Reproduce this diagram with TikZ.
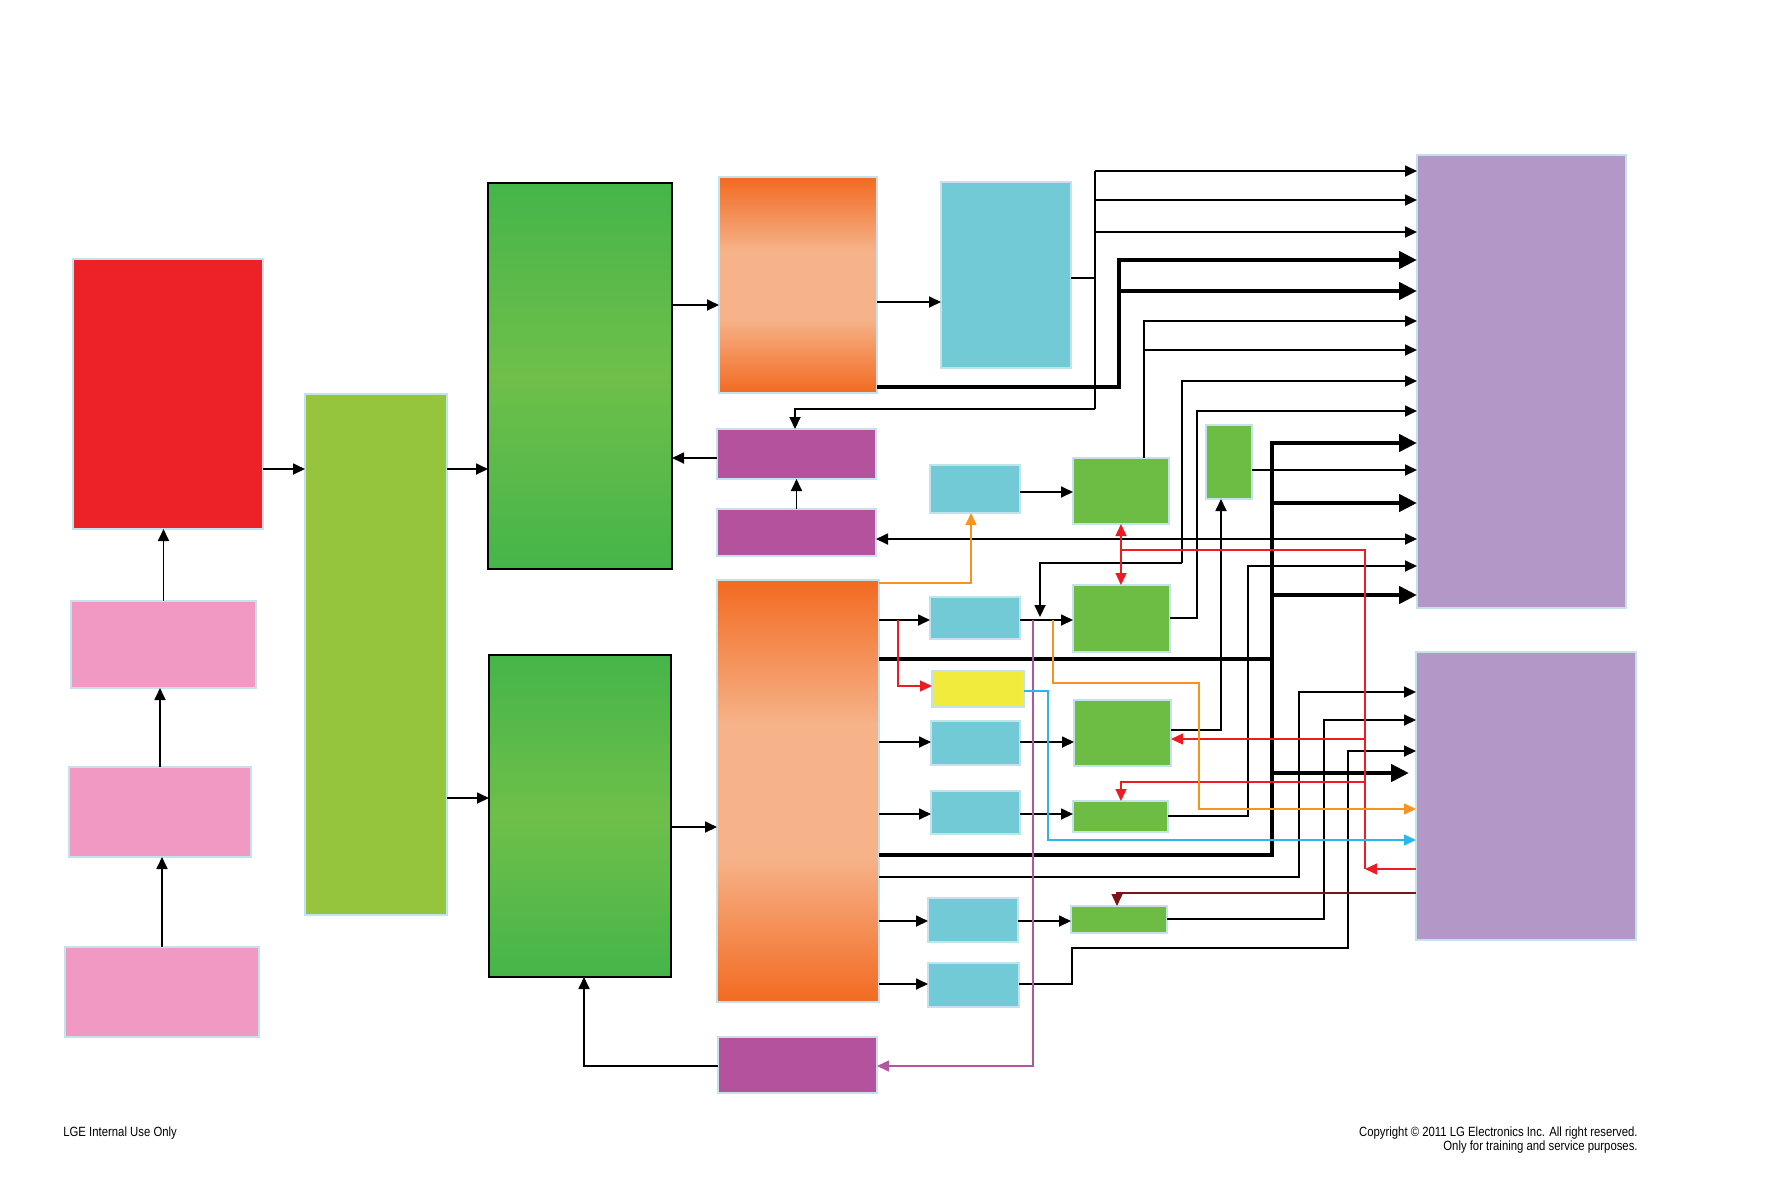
\documentclass[tikz,border=0pt]{standalone}
\usepackage{fontspec}
\usepackage{xcolor}
\usetikzlibrary{arrows.meta}
\newfontfamily\lgfont[FakeStretch=0.85]{Liberation Sans}

\definecolor{boxedge}{HTML}{C4E2EC}
\definecolor{boxred}{HTML}{ED2227}
\definecolor{boxpink}{HTML}{F09AC3}
\definecolor{boxlime}{HTML}{95C43D}
\definecolor{greendk}{HTML}{45B549}
\definecolor{greenlt}{HTML}{6FBF4A}
\definecolor{boxorange}{HTML}{F26A21}
\definecolor{boxpeach}{HTML}{F6B288}
\definecolor{boxmag}{HTML}{B4529E}
\definecolor{boxcyan}{HTML}{72CAD7}
\definecolor{boxgreen}{HTML}{6DBD45}
\definecolor{boxyellow}{HTML}{F0EB3D}
\definecolor{boxlav}{HTML}{B397C6}
\definecolor{sorange}{HTML}{F7941D}
\definecolor{sred}{HTML}{ED1C24}
\definecolor{sblue}{HTML}{2BB7E8}
\definecolor{smag}{HTML}{B455A2}
\definecolor{sdkred}{HTML}{7B1416}

\pgfdeclareverticalshading{orshade}{100bp}{color(0bp)=(boxorange); color(25bp)=(boxorange); color(42bp)=(boxpeach); color(58bp)=(boxpeach); color(75bp)=(boxorange); color(100bp)=(boxorange)}

% block from corner (x1,y1) to corner (x2,y2)
\newcommand{\blk}[6]{\node[#2, minimum width={(#5-#3)*0.02cm}, minimum height={(#6-#4)*0.02cm}] (#1) at ({(#3+#5)/2},{(#4+#6)/2}) {};}

\begin{document}
\begin{tikzpicture}[x=0.02cm, y=-0.02cm,
	box/.style={inner sep=0pt, outer sep=0pt, draw=boxedge, line width=0.6pt},
	redbox/.style={box, fill=boxred},
	pinkbox/.style={box, fill=boxpink},
	limebox/.style={box, fill=boxlime},
	bigbox/.style={inner sep=0pt, outer sep=0pt, draw=black, line width=1pt, top color=greendk, bottom color=greendk, middle color=greenlt},
	orbox/.style={box, shading=orshade},
	magbox/.style={box, fill=boxmag},
	cybox/.style={box, fill=boxcyan},
	grbox/.style={box, fill=boxgreen},
	yebox/.style={box, fill=boxyellow},
	lavbox/.style={box, fill=boxlav},
	ln/.style={line width=1pt, >={Triangle[length=0.24cm,width=0.22cm]}},
	cl/.style={line width=0.8pt, >={Triangle[length=0.24cm,width=0.22cm]}},
	bus/.style={line width=2.8pt, >={Triangle[length=0.36cm,width=0.34cm]}},
	foot/.style={font=\lgfont\fontsize{7.6}{8.3}\selectfont, inner sep=0pt}]
	\useasboundingbox (0,0) rectangle (1765,1191);

	% blocks
	\blk{rd}{redbox}{73}{259}{263}{529}
	\blk{pk1}{pinkbox}{71}{601}{256}{688}
	\blk{pk2}{pinkbox}{69}{767}{251}{857}
	\blk{pk3}{pinkbox}{65}{947}{259}{1037}
	\blk{yg}{limebox}{305}{394}{447}{915}
	\blk{gnT}{bigbox}{488}{183}{672}{569}
	\blk{gnB}{bigbox}{489}{655}{671}{977}
	\blk{orT}{orbox}{719}{177}{877}{393}
	\blk{orB}{orbox}{717}{580}{879}{1002}
	\blk{mgA}{magbox}{717}{429}{876}{479}
	\blk{mgB}{magbox}{717}{509}{876}{556}
	\blk{mgC}{magbox}{718}{1037}{877}{1093}
	\blk{cyT}{cybox}{941}{182}{1071}{368}
	\blk{cy1}{cybox}{930}{465}{1020}{513}
	\blk{cy2}{cybox}{930}{597}{1020}{639}
	\blk{cy3}{cybox}{931}{721}{1020}{765}
	\blk{cy4}{cybox}{931}{791}{1020}{834}
	\blk{cy5}{cybox}{928}{898}{1018}{942}
	\blk{cy6}{cybox}{928}{963}{1019}{1007}
	\blk{yl}{yebox}{932}{671}{1024}{707}
	\blk{gA}{grbox}{1073}{458}{1169}{524}
	\blk{gC}{grbox}{1073}{585}{1170}{652}
	\blk{gB}{grbox}{1074}{700}{1171}{766}
	\blk{gD}{grbox}{1073}{801}{1168}{832}
	\blk{gE}{grbox}{1071}{906}{1167}{933}
	\blk{gT}{grbox}{1206}{425}{1252}{499}
	\blk{lvT}{lavbox}{1417}{155}{1626}{608}
	\blk{lvB}{lavbox}{1416}{652}{1636}{940}

	% left column
	\draw[ln,->] (pk3.north) -- (pk3.north |- pk2.south);
	\draw[ln,->] (pk2.north) -- (pk2.north |- pk1.south);
	\draw[ln,->] (pk1.north) -- (pk1.north |- rd.south);
	\draw[ln,->] (rd.east |- 0,469) -- (yg.west |- 0,469);
	\draw[ln,->] (yg.east |- 0,469) -- (gnT.west |- 0,469);
	\draw[ln,->] (yg.east |- 0,798) -- (gnB.west |- 0,798);
	\draw[ln,->] (gnT.east |- 0,305) -- (orT.west |- 0,305);
	\draw[ln,->] (mgA.west |- 0,458) -- (gnT.east |- 0,458);
	\draw[ln,->] (mgB.north) -- (mgA.south);
	\draw[ln,->] (gnB.east |- 0,827) -- (orB.west |- 0,827);
	\draw[ln,->] (mgC.west |- 0,1066) -| (gnB.south -| 584,0);

	% top bus
	\draw[ln,->] (orT.east |- 0,302) -- (cyT.west |- 0,302);
	\draw[ln] (cyT.east |- 0,278) -- (1095,278);
	\draw[ln] (1095,171) -- (1095,409);
	\foreach \y in {171,200,232}
		\draw[ln,->] (1095,\y) -- (lvT.west |- 0,\y);
	\draw[ln,->] (1095,409) -| (mgA.north -| 795,0);

	% thick buses
	\draw[bus,->] (orT.east |- 0,387) -| (1119,260) -- (lvT.west |- 0,260);
	\draw[bus,->] (1119,291) -- (lvT.west |- 0,291);
	\draw[bus,->] (orB.east |- 0,855) -| (1272,443) -- (lvT.west |- 0,443);
	\foreach \y in {503,595}
		\draw[bus,->] (1272,\y) -- (lvT.west |- 0,\y);
	\draw[bus] (orB.east |- 0,659) -- (1272,659);
	\draw[bus,->,shorten >=0.14cm] (1272,773) -- (lvB.west |- 0,773);

	% middle blocks
	\draw[ln,->] (cy1.east |- 0,492) -- (gA.west |- 0,492);
	\draw[ln,->] (orB.east |- 0,620) -- (cy2.west |- 0,620);
	\draw[ln,->] (cy2.east |- 0,620) -- (gC.west |- 0,620);
	\foreach \c/\g/\y in {cy3/gB/742, cy4/gD/814, cy5/gE/921} {
		\draw[ln,->] (orB.east |- 0,\y) -- (\c.west |- 0,\y);
		\draw[ln,->] (\c.east |- 0,\y) -- (\g.west |- 0,\y);
	}
	\draw[ln,->] (orB.east |- 0,984) -- (cy6.west |- 0,984);

	% outputs to the right
	\draw[ln,->] (gA.north -| 1144,0) |- (lvT.west |- 0,321);
	\draw[ln,->] (1144,350) -- (lvT.west |- 0,350);
	\draw[ln,->] (1182,563) |- (lvT.west |- 0,381);
	\draw[ln,->] (1182,563) -| (1040,617);
	\draw[ln,->] (gC.east |- 0,618) -| (1197,411) -- (lvT.west |- 0,411);
	\draw[ln,->] (gT.east |- 0,470) -- (lvT.west |- 0,470);
	\draw[ln] (gB.east |- 0,730) -| (1221,539);
	\draw[ln,->] (1221,539) -- (gT.south -| 1221,0);
	\draw[ln,->] (1221,539) -- (mgB.east |- 0,539);
	\draw[ln,->] (1221,539) -- (lvT.west |- 0,539);
	\draw[ln,->] (gD.east |- 0,816) -| (1248,566) -- (lvT.west |- 0,566);
	\draw[ln,->] (orB.east |- 0,877) -| (1299,692) -- (lvB.west |- 0,692);
	\draw[ln,->] (gE.east |- 0,919) -| (1324,720) -- (lvB.west |- 0,720);
	\draw[ln,->] (cy6.east |- 0,984) -| (1072,948) -| (1348,751) -- (lvB.west |- 0,751);

	% coloured signals
	\draw[cl,sorange,->] (orB.east |- 0,583) -| (cy1.south -| 971,0);
	\draw[cl,sred,<->] (gA.south -| 1121,0) -- (gC.north -| 1121,0);
	\draw[cl,sred] (1121,550) -| (1365,869);
	\draw[cl,sred,->] (lvB.west |- 0,869) -- (1365,869);
	\draw[cl,sred,->] (1365,739) -- (gB.east |- 0,739);
	\draw[cl,sred,->] (1365,782) -| (gD.north -| 1121,0);
	\draw[cl,sdkred,->] (lvB.west |- 0,893) -| (gE.north -| 1117,0);
	\draw[cl,sred,->] (898,620) |- (yl.west |- 0,686);
	\draw[cl,smag,->] (1033,620) |- (mgC.east |- 0,1066);
	\draw[cl,sorange,->] (1053,620) |- (1199,683) |- (lvB.west |- 0,809);
	\draw[cl,sblue,->] (yl.east |- 0,691) -| (1048,840) -- (lvB.west |- 0,840);

	% footer
	\node[foot, anchor=base west] (lgeuse) at (63,1136) {LGE Internal Use Only};
	\node[foot, anchor=base east] (copy) at (1638,1136) {Copyright © 2011 LG Electronics Inc. All right reserved.};
	\node[foot, anchor=base east] (train) at (1638,1150) {Only for training and service purposes.};
\end{tikzpicture}
\end{document}
